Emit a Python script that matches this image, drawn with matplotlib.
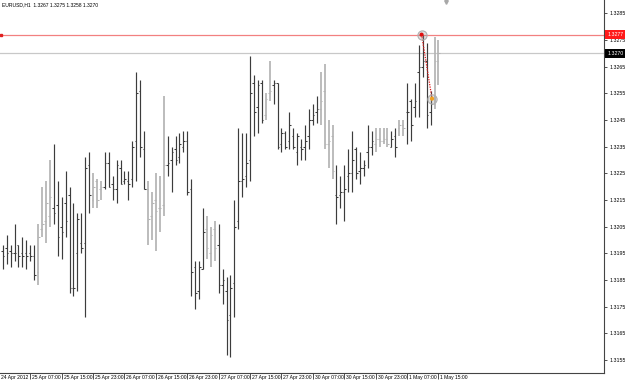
import matplotlib
matplotlib.use("Agg")
import matplotlib.pyplot as plt
from matplotlib.transforms import blended_transform_factory
import numpy as np

plt.rcParams["font.family"] = ["Liberation Sans", "DejaVu Sans"]

title_text = "EURUSD,H1  1.3267 1.3275 1.3258 1.3270"

open_ = [1.3196, 1.3197, 1.3196, 1.3195, 1.3198, 1.3195, 1.3195, 1.3195, 1.3194, 1.3188,
         1.3204, 1.3207, 1.3209, 1.3212, 1.3213, 1.3205, 1.3214, 1.3217, 1.3182, 1.3195,
         1.3199, 1.3199, 1.3228, 1.3215, 1.3222, 1.3219, 1.3220, 1.3229, 1.3221, 1.3219,
         1.3227, 1.3222, 1.3222, 1.3223, 1.3237, 1.3256, 1.3234, 1.3219, 1.3209, 1.3215,
         1.3212, 1.3213, 1.3228, 1.3230, 1.3234, 1.3231, 1.3235, 1.3237, 1.3219, 1.3190,
         1.3181, 1.3189, 1.3204, 1.3195, 1.3204, 1.3198, 1.3183, 1.3181, 1.3172, 1.3184,
         1.3207, 1.3222, 1.3224, 1.3230, 1.3259, 1.3250, 1.3259, 1.3247, 1.3255, 1.3258,
         1.3259, 1.3236, 1.3240, 1.3237, 1.3239, 1.3233, 1.3235, 1.3235, 1.3239, 1.3245,
         1.3248, 1.3249, 1.3256, 1.3236, 1.3239, 1.3217, 1.3217, 1.3218, 1.3224, 1.3225,
         1.3234, 1.3226, 1.3227, 1.3233, 1.3235, 1.3236, 1.3238, 1.3237, 1.3238, 1.3235,
         1.3239, 1.3242, 1.3243, 1.3248, 1.3252, 1.3250, 1.3263, 1.3265, 1.3267, 1.3248,
         1.3251, 1.3267]

high = [1.3198, 1.3202, 1.3198, 1.3206, 1.3198, 1.3201, 1.3200, 1.3198, 1.3198, 1.3206,
        1.3220, 1.3222, 1.3230, 1.3236, 1.3222, 1.3216, 1.3226, 1.3220, 1.3214, 1.3210,
        1.3210, 1.3231, 1.3233, 1.3225, 1.3223, 1.3222, 1.3233, 1.3233, 1.3224, 1.3230,
        1.3230, 1.3226, 1.3226, 1.3237, 1.3263, 1.3260, 1.3241, 1.3222, 1.3218, 1.3225,
        1.3224, 1.3254, 1.3239, 1.3235, 1.3239, 1.3240, 1.3241, 1.3241, 1.3223, 1.3192,
        1.3192, 1.3212, 1.3209, 1.3205, 1.3207, 1.3206, 1.3189, 1.3186, 1.3187, 1.3215,
        1.3242, 1.3240, 1.3240, 1.3269, 1.3262, 1.3260, 1.3260, 1.3255, 1.3267, 1.3260,
        1.3259, 1.3242, 1.3241, 1.3248, 1.3242, 1.3240, 1.3238, 1.3243, 1.3249, 1.3251,
        1.3254, 1.3263, 1.3266, 1.3245, 1.3243, 1.3228, 1.3224, 1.3228, 1.3234, 1.3241,
        1.3235, 1.3233, 1.3230, 1.3243, 1.3241, 1.3242, 1.3242, 1.3242, 1.3242, 1.3241,
        1.3242, 1.3245, 1.3245, 1.3259, 1.3253, 1.3259, 1.3273, 1.3277, 1.3274, 1.3256,
        1.3276, 1.3275]

low = [1.3189, 1.3191, 1.3190, 1.3192, 1.3190, 1.3190, 1.3189, 1.3192, 1.3185, 1.3183,
       1.3201, 1.3199, 1.3205, 1.3206, 1.3194, 1.3193, 1.3201, 1.3180, 1.3179, 1.3181,
       1.3195, 1.3171, 1.3210, 1.3212, 1.3212, 1.3215, 1.3219, 1.3220, 1.3215, 1.3214,
       1.3221, 1.3221, 1.3215, 1.3220, 1.3222, 1.3231, 1.3219, 1.3198, 1.3200, 1.3196,
       1.3203, 1.3209, 1.3224, 1.3218, 1.3228, 1.3229, 1.3233, 1.3217, 1.3179, 1.3174,
       1.3178, 1.3189, 1.3193, 1.3190, 1.3192, 1.3180, 1.3176, 1.3157, 1.3156, 1.3171,
       1.3204, 1.3216, 1.3220, 1.3222, 1.3239, 1.3240, 1.3244, 1.3245, 1.3252, 1.3251,
       1.3234, 1.3233, 1.3234, 1.3234, 1.3234, 1.3228, 1.3230, 1.3230, 1.3234, 1.3243,
       1.3244, 1.3243, 1.3234, 1.3227, 1.3223, 1.3206, 1.3212, 1.3207, 1.3218, 1.3218,
       1.3223, 1.3221, 1.3224, 1.3227, 1.3232, 1.3233, 1.3235, 1.3236, 1.3235, 1.3235,
       1.3231, 1.3239, 1.3239, 1.3236, 1.3237, 1.3246, 1.3246, 1.3261, 1.3242, 1.3243,
       1.3249, 1.3258]

close = [1.3194, 1.3195, 1.3195, 1.3195, 1.3194, 1.3194, 1.3194, 1.3194, 1.3187, 1.3201,
         1.3206, 1.3214, 1.3216, 1.3210, 1.3201, 1.3203, 1.3207, 1.3182, 1.3182, 1.3208,
         1.3197, 1.3227, 1.3217, 1.3220, 1.3215, 1.3220, 1.3229, 1.3220, 1.3219, 1.3228,
         1.3221, 1.3223, 1.3221, 1.3235, 1.3255, 1.3235, 1.3219, 1.3208, 1.3214, 1.3211,
         1.3212, 1.3228, 1.3229, 1.3233, 1.3230, 1.3236, 1.3237, 1.3218, 1.3188, 1.3180,
         1.3190, 1.3203, 1.3197, 1.3202, 1.3197, 1.3183, 1.3185, 1.3170, 1.3182, 1.3205,
         1.3222, 1.3223, 1.3229, 1.3255, 1.3248, 1.3258, 1.3245, 1.3253, 1.3256, 1.3259,
         1.3235, 1.3240, 1.3235, 1.3243, 1.3235, 1.3239, 1.3234, 1.3237, 1.3245, 1.3247,
         1.3249, 1.3252, 1.3236, 1.3237, 1.3226, 1.3216, 1.3218, 1.3219, 1.3225, 1.3230,
         1.3225, 1.3227, 1.3228, 1.3235, 1.3237, 1.3238, 1.3237, 1.3238, 1.3236, 1.3238,
         1.3235, 1.3243, 1.3242, 1.3248, 1.3243, 1.3252, 1.3265, 1.3267, 1.3247, 1.3251,
         1.3267, 1.3270]

light_bars = [9, 10, 11, 12, 23, 24, 25, 37, 38, 39, 40, 41, 52, 53, 54, 67, 68,
              81, 82, 83, 84, 95, 96, 97, 98, 101, 102, 110, 111]

time_labels = ["24 Apr 2012", "25 Apr 07:00", "25 Apr 15:00", "25 Apr 23:00",
               "26 Apr 07:00", "26 Apr 15:00", "26 Apr 23:00", "27 Apr 07:00",
               "27 Apr 15:00", "27 Apr 23:00", "30 Apr 07:00", "30 Apr 15:00",
               "30 Apr 23:00", "1 May 07:00", "1 May 15:00"]
time_label_bar = [-1, 7, 15, 23, 31, 39, 47, 55, 63, 71, 79, 87, 95, 103, 111]

price_ticks = [1.3155, 1.3165, 1.3175, 1.3185, 1.3195, 1.3205, 1.3215,
               1.3225, 1.3235, 1.3245, 1.3255, 1.3265, 1.3275, 1.3285]

red_level = 1.3277
bid_level = 1.3270
marker_bar = [106.7, 109.35]
marker_price = [1.3277, 1.3253]

# ---------------------------------------------------------------------------
W, H = 625, 384
fig = plt.figure(figsize=(W / 100, H / 100), dpi=100)
ax = fig.add_axes([0, 11 / H, 604 / W, 373 / H])

n = len(close)
idx = np.arange(n)
shade = np.zeros(n, bool)
shade[light_bars] = True
dark_c, light_c = "#3c3c3c", "#b4b4b4"
cols = np.where(shade, light_c, dark_c)
lws = np.where(shade, 1.25, 0.85)

ax.axhline(bid_level, color="#c8c8c8", lw=0.9, zorder=1)
ax.axhline(red_level, color="#f28080", lw=0.9, zorder=1)
ax.plot([0.002], [red_level], marker="s", ms=1.6, color="#e02020",
        transform=blended_transform_factory(ax.transAxes, ax.transData), clip_on=False)

ax.vlines(idx, low, high, colors=cols, linewidths=lws, zorder=2)
ax.hlines(open_, idx - 0.4, idx, colors=cols, linewidths=0.75, zorder=2)
ax.hlines(close, idx, idx + 0.4, colors=cols, linewidths=0.75, zorder=2)

# user drawings
ax.plot(marker_bar, marker_price, ls=(0, (1, 1)), color="#e01818", lw=0.9, zorder=3)
ax.scatter(marker_bar, marker_price, s=44, facecolor=(0.6, 0.6, 0.6, 0.3),
           edgecolor="#b0b0b0", linewidths=0.8, zorder=4)
ax.scatter(marker_bar, marker_price, s=4, c=["#e01010", "#f0a020"], zorder=5)

ax.set_xlim(-0.713, 153.17)
ax.set_ylim(1.3150125, 1.3290)

for s in ("top", "left"):
    ax.spines[s].set_visible(False)
for s in ("right", "bottom"):
    ax.spines[s].set_color("#444444")
    ax.spines[s].set_linewidth(0.8)

# price axis
ax.yaxis.tick_right()
ax.set_yticks(price_ticks)
ax.set_yticklabels([f"{p:.4f}" for p in price_ticks])
ax.tick_params(axis="y", direction="out", length=2.5, width=0.6, pad=1.2,
               labelsize=3.8, colors="#333333", labelcolor="black")

# time axis
ax.set_xticks([b for b in time_label_bar if b >= -0.7])
ax.set_xticklabels([])
ax.tick_params(axis="x", direction="out", length=4, width=0.6, colors="#333333")
tr = blended_transform_factory(ax.transData, ax.transAxes)
for b, lab in zip(time_label_bar, time_labels):
    ax.annotate(lab, xy=(b, 0), xycoords=tr, xytext=(1.4, -1.6),
                textcoords="offset points", ha="left", va="top",
                fontsize=3.6, color="black", annotation_clip=False)

# price boxes at the right
trp = blended_transform_factory(ax.transAxes, ax.transData)
for lvl, bg in ((red_level, "#ff1a1a"), (bid_level, "#000000")):
    ax.annotate(f"{lvl:.4f}", xy=(1.0, lvl), xycoords=trp, xytext=(2.2, 0),
                textcoords="offset points", ha="left", va="center",
                fontsize=3.8, color="white", annotation_clip=False,
                bbox=dict(boxstyle="square,pad=0.35", fc=bg, ec="none"))

# chart shift marker
ax.plot([446 / 604], [1 - 1.5 / 373], marker="v", ms=2.6, color="#a8a8a8",
        transform=ax.transAxes, clip_on=False)

fig.text(2 / W, 1 - 5 / H, title_text, ha="left", va="center", fontsize=3.6)

fig.savefig("out.png", dpi=100)
